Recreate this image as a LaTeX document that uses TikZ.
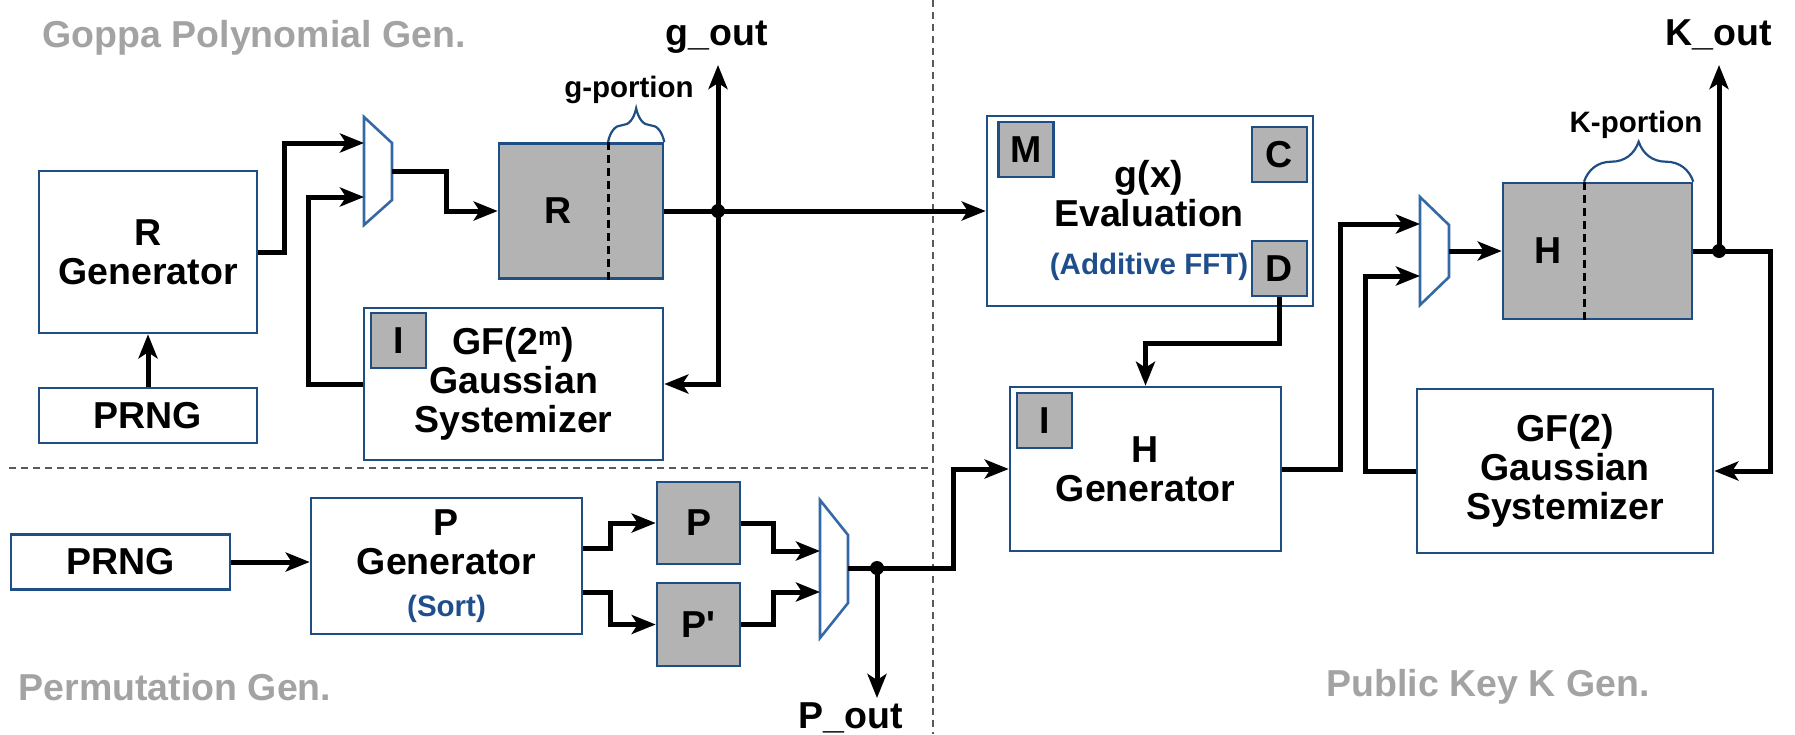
\documentclass[tikz,border=0pt]{standalone}
\usepackage{fontspec}
\setmainfont{Liberation Sans}
\usetikzlibrary{arrows.meta,decorations.pathreplacing}

\begin{document}
\begin{tikzpicture}[x=1pt,y=-1pt,font=\bfseries\fontsize{37.5}{39}\selectfont,
  blk/.style={draw=boxblue,line width=2.6pt,fill=white,align=center,inner sep=0pt},
  reg/.style={blk,fill=reggray},
  tag/.style={reg,minimum width=55pt,minimum height=55pt},
  wire/.style={line width=5pt,-{Stealth[length=24pt,width=19pt,inset=6pt]}},
  muxshape/.style={draw=muxblue,line width=2.6pt,fill=white,line join=miter},
  portion/.style={draw=boxblue,line width=2.2pt,decorate,decoration={brace,amplitude=#1}},
  cut/.style={line width=3pt,dash pattern=on 8pt off 5pt},
  divider/.style={black!65,line width=1.8pt,dash pattern=on 7pt off 5pt},
  region/.style={text=titlegray},
  note/.style={font=\bfseries\fontsize{29.5}{31}\selectfont}]
\definecolor{boxblue}{HTML}{1F4E85}
\definecolor{muxblue}{HTML}{3468A6}
\definecolor{reggray}{HTML}{B3B3B3}
\definecolor{titlegray}{HTML}{A3A3A3}
\definecolor{fftblue}{HTML}{1F4E8C}
\useasboundingbox (0,0) rectangle (1795,734);
\draw[divider] (933,0) -- (933,734);
\draw[divider] (9,468) -- (933,468);
\node[region] (goppa) at (254,38) {Goppa Polynomial Gen.};
\node[region] (perm) at (175,687) {Permutation Gen.};
\node[region] (pubkey) at (1488,687) {Public Key K Gen.};
\node[blk,minimum width=218pt,minimum height=162pt] (rgen) at (148,252) {R\\Generator};
\node[blk,minimum width=218pt,minimum height=55pt] (prngA) at (148,415.5) {PRNG};
\draw[muxshape] (364,117) -- (392,143) -- (392,200) -- (364,225) -- cycle;
\coordinate (muxAa) at (364,143);
\coordinate (muxAb) at (364,197);
\coordinate (muxAo) at (392,171);
\node[reg,minimum width=164pt,minimum height=135pt] (rreg) at (581,211) {};
\node (rlab) at (558,211) {R};
\draw[cut] ([xshift=27pt]rreg.north) -- ([xshift=27pt]rreg.south);
\draw[portion=34pt] ([xshift=27pt]rreg.north) -- (rreg.north east);
\node[note] (gpor) at (629,90) {g-portion};
\node[blk,minimum width=299pt,minimum height=152pt] (gsys) at (513.5,384) {GF(2\textsuperscript{m})\\Gaussian\\Systemizer};
\node[tag] (tagIa) at (398.5,340.5) {I};
\node[anchor=base] (gout) at (717,45) {g\_out};
\coordinate (gtap) at (718,211);
\node[blk,minimum width=326pt,minimum height=190pt] (geval) at (1150,211) {};
\node[align=center] (gxtext) at (1149,220) {g(x)\\Evaluation\\[9pt]{\fontsize{29.5}{31}\selectfont\color{fftblue}(Additive FFT)}};
\node[tag] (tagM) at (1026,149.5) {M};
\node[tag] (tagC) at (1279.5,154.5) {C};
\node[tag] (tagD) at (1279.5,268.5) {D};
\node[blk,minimum width=271pt,minimum height=164pt] (hgen) at (1145.5,469) {H\\Generator};
\node[tag] (tagIb) at (1044.5,420.5) {I};
\draw[muxshape] (1420,197) -- (1449,225) -- (1449,277) -- (1420,305) -- cycle;
\coordinate (muxCa) at (1420,224);
\coordinate (muxCb) at (1420,276);
\coordinate (muxCo) at (1449,251);
\node[reg,minimum width=189pt,minimum height=136pt] (hreg) at (1597.5,251) {};
\node (hlab) at (1548,251) {H};
\draw[cut] ([xshift=-13.5pt]hreg.north) -- ([xshift=-13.5pt]hreg.south);
\draw[portion=40pt] ([xshift=-13.5pt]hreg.north) -- (hreg.north east);
\node[note] (kpor) at (1636,125) {K-portion};
\node[anchor=base] (kout) at (1719,45) {K\_out};
\coordinate (ktap) at (1719,251);
\node[blk,minimum width=296pt,minimum height=164pt] (gf2) at (1565,471) {GF(2)\\Gaussian\\Systemizer};
\node[blk,minimum width=219pt,minimum height=55pt] (prngB) at (120.5,562) {PRNG};
\node[blk,minimum width=271pt,minimum height=136pt] (pgen) at (446.5,566) {P\\Generator\\[3pt]{\fontsize{29.5}{31}\selectfont\color{fftblue}(Sort)}};
\node[reg,minimum width=83pt,minimum height=82pt] (preg) at (698.5,523) {P};
\node[reg,minimum width=83pt,minimum height=83pt] (ppreg) at (698.5,624.5) {P\textquotesingle};
\draw[muxshape] (820,500) -- (848,535) -- (848,603) -- (820,638) -- cycle;
\coordinate (muxBa) at (820,551);
\coordinate (muxBb) at (820,592);
\coordinate (muxBo) at (848,568);
\coordinate (ptap) at (877,568);
\node[anchor=base] (pout) at (851,728) {P\_out};
\draw[wire] (prngA) -- (rgen);
\draw[wire] (rgen.east) -- ++(26,0) |- (muxAa);
\draw[wire] (gsys.west) -- ++(-54,0) |- (muxAb);
\draw[wire] (muxAo) -- ++(54,0) |- (rreg.west);
\draw[wire] (rreg.east) -- (geval.west);
\draw[wire] (gtap) -- (718,65);
\draw[wire] (gtap) |- (gsys.east);
\fill (gtap) circle (7pt);
\draw[wire] (tagD.south) -- ++(0,46) -| (hgen.north);
\draw[wire] (hgen.east) -- ++(58,0) |- (muxCa);
\draw[wire] (gf2.west) -- ++(-50,0) |- (muxCb);
\draw[wire] (muxCo) -- (hreg.west);
\draw[wire] (hreg.east) -- ++(77,0) |- (gf2.east);
\draw[wire] (ktap) -- (1719,65);
\fill (ktap) circle (7pt);
\draw[wire] (prngB.east) -- (prngB.east -| pgen.west);
\draw[wire] ([yshift=18pt]pgen.east) -- ++(27,0) |- (preg.west);
\draw[wire] ([yshift=-26pt]pgen.east) -- ++(27,0) |- (ppreg.west);
\draw[wire] (preg.east) -- ++(32,0) |- (muxBa);
\draw[wire] (ppreg.east) -- ++(32,0) |- (muxBb);
\draw[wire] (muxBo) -- ++(105,0) |- (hgen.west);
\draw[wire] (ptap) -- (877,698);
\fill (ptap) circle (7pt);
\end{tikzpicture}
\end{document}
